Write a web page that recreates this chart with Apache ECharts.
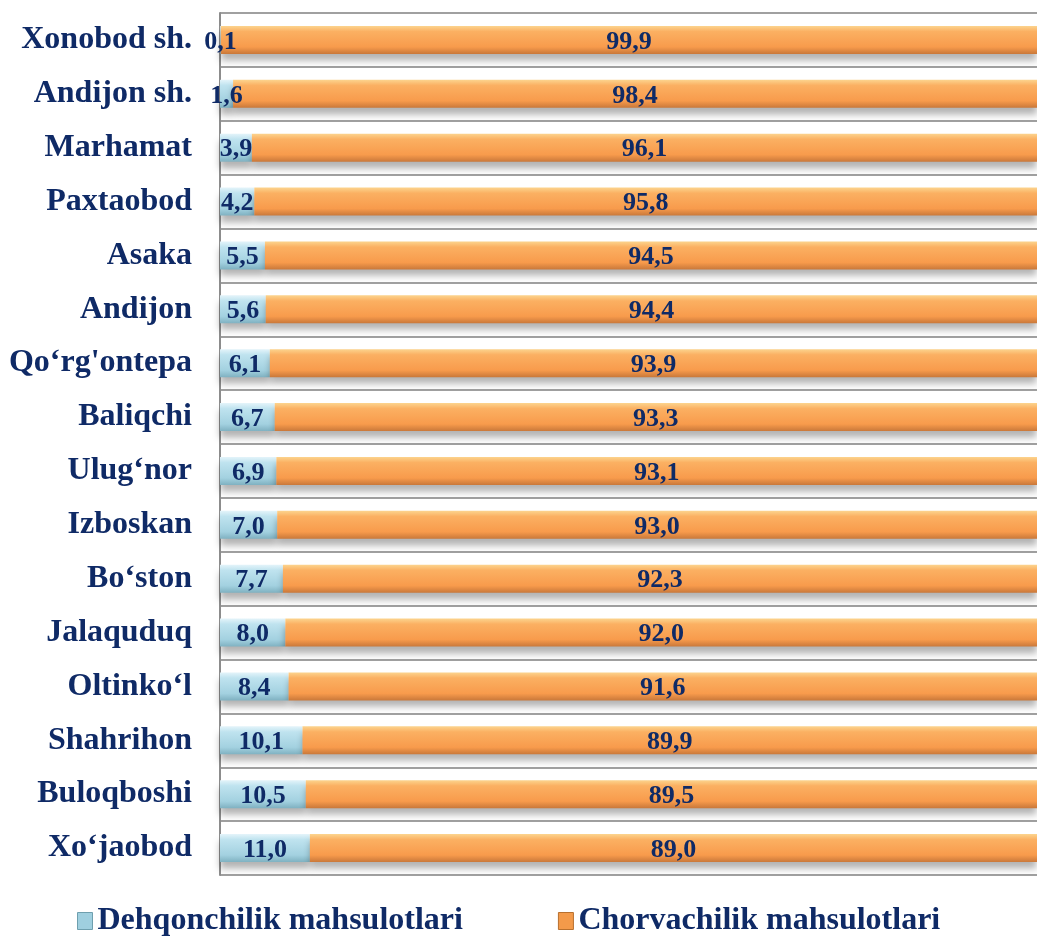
<!DOCTYPE html>
<html>
<head>
<meta charset="utf-8">
<script src="https://cdn.jsdelivr.net/npm/echarts@6/dist/echarts.min.js"></script>
<style>
  html, body { margin: 0; padding: 0; background: #fff; }
  #container { width: 1037px; height: 936px; }
</style>
</head>
<body>
<div id="container"></div>
<script>
var dom = document.getElementById('container');
var myChart = echarts.init(dom, null, { renderer: 'canvas' });

// data, top to bottom as in the picture
const districts = ['Xonobod sh.', 'Andijon sh.', 'Marhamat', 'Paxtaobod', 'Asaka', 'Andijon',
  'Qo‘rg\'ontepa', 'Baliqchi', 'Ulug‘nor', 'Izboskan', 'Bo‘ston', 'Jalaquduq',
  'Oltinko‘l', 'Shahrihon', 'Buloqboshi', 'Xo‘jaobod'];
const dehqonchilik = [0.1, 1.6, 3.9, 4.2, 5.5, 5.6, 6.1, 6.7, 6.9, 7.0, 7.7, 8.0, 8.4, 10.1, 10.5, 11.0];
const chorvachilik = [99.9, 98.4, 96.1, 95.8, 94.5, 94.4, 93.9, 93.3, 93.1, 93.0, 92.3, 92.0, 91.6, 89.9, 89.5, 89.0];
const seriesNames = ['Dehqonchilik mahsulotlari', 'Chorvachilik mahsulotlari'];

const navy = '#0f2a66';
const font = '"Liberation Serif", "Times New Roman", serif';

function grad(c0, c1, c2, c3) {
  return new echarts.graphic.LinearGradient(0, 0, 0, 1, [
    { offset: 0, color: c0 },
    { offset: 0.2, color: c1 },
    { offset: 0.75, color: c2 },
    { offset: 1, color: c3 }
  ]);
}

const labelStyle = {
  show: true,
  position: 'inside',
  offset: [0, 2],
  color: navy,
  fontFamily: font,
  fontWeight: 'bold',
  fontSize: 26,
  formatter: p => p.value.toFixed(1).replace('.', ',')
};

var option = {
  animation: false,
  grid: { left: 220, right: -13, top: 13, bottom: 61, containLabel: false },
  xAxis: {
    type: 'value',
    min: 0,
    max: 100,
    axisLabel: { show: false },
    axisLine: { show: false },
    axisTick: { show: false },
    splitLine: { show: false }
  },
  yAxis: {
    type: 'category',
    inverse: true,
    data: districts,
    axisLine: { show: true, lineStyle: { color: '#8c8c8c', width: 2 } },
    axisTick: { show: false },
    axisLabel: {
      margin: 28,
      color: navy,
      fontFamily: font,
      fontWeight: 'bold',
      fontSize: 32
    },
    splitLine: { show: true, lineStyle: { color: '#a0a0a0', width: 2 } }
  },
  legend: {
    left: 72,
    bottom: -6,
    itemGap: 95,
    itemWidth: 15,
    itemHeight: 17,
    textStyle: { color: navy, fontFamily: font, fontWeight: 'bold', fontSize: 32 },
    data: [
      { name: seriesNames[0], icon: 'rect', itemStyle: { color: '#9fcfdf', borderColor: '#6e9fae', borderWidth: 1 } },
      { name: seriesNames[1], icon: 'rect', itemStyle: { color: '#f39a4a', borderColor: '#b8702e', borderWidth: 1 } }
    ]
  },
  series: [
    {
      name: seriesNames[0],
      type: 'bar',
      stack: 'total',
      barWidth: 28,
      data: dehqonchilik,
      label: labelStyle,
      itemStyle: {
        color: grad('#e4f4fa', '#bfe3ef', '#a3d1e0', '#7fb1c1'),
        shadowColor: 'rgba(0,0,0,0.3)',
        shadowBlur: 7,
        shadowOffsetY: 7
      }
    },
    {
      name: seriesNames[1],
      type: 'bar',
      stack: 'total',
      barWidth: 28,
      data: chorvachilik,
      label: labelStyle,
      itemStyle: {
        color: grad('#fcd48e', '#fbb062', '#f89b4c', '#c9783a'),
        shadowColor: 'rgba(0,0,0,0.3)',
        shadowBlur: 7,
        shadowOffsetY: 7
      }
    }
  ]
};

myChart.setOption(option);
window.addEventListener('resize', myChart.resize);
</script>
</body>
</html>
